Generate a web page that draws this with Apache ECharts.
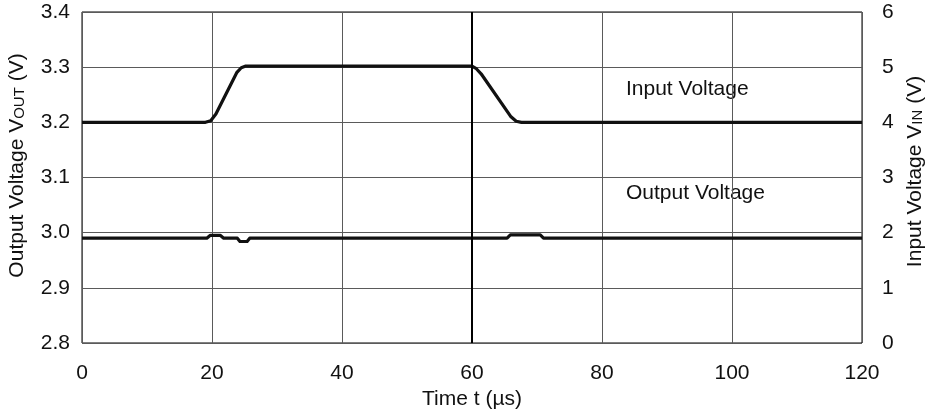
<!DOCTYPE html>
<html>
<head><meta charset="utf-8"></head>
<script type="text/javascript" src="https://cdn.jsdelivr.net/npm/echarts@6/dist/echarts.min.js"></script>
<body style="margin:0;background-color:#fff;">
    <div id="main" style="width:928px;height:416px;"></div>
</body>
<script type="text/javascript">
// time axis (us)
var xTicks = [0, 20, 40, 60, 80, 100, 120]
var voutTicks = [2.8, 2.9, 3.0, 3.1, 3.2, 3.3, 3.4]
var vinTicks = [0, 1, 2, 3, 4, 5, 6]

// input voltage step [t, V]
var vinT = [0, 19, 19.8, 20.6, 23.8, 24.5, 25.2, 60, 60.6, 61.4, 66, 66.8, 67.6, 120]
var vinV = [4, 4, 4.03, 4.15, 4.9, 4.99, 5.02, 5.02, 4.98, 4.88, 4.1, 4.02, 4, 4]

// output voltage, small blips at the edges
var voutT = [0, 19.2, 19.7, 21.3, 21.8, 23.9, 24.3, 25.4, 25.8, 65.4, 65.9, 70.5, 71, 120]
var voutV = [2.99, 2.99, 2.995, 2.995, 2.99, 2.99, 2.984, 2.984, 2.99, 2.99, 2.996, 2.996, 2.99, 2.99]

function pairs(xs, ys){
    var out = []
    for(var i=0;i<xs.length;i++){ out.push([xs[i], ys[i]]) }
    return out
}

var font = 'Liberation Sans, Arial, sans-serif'
var fs = 21
var gridColor = '#5a5a5a'

var myChart = echarts.init(document.getElementById('main'));
var option = {
    animation: false,
    grid: {left: 82, right: 66, top: 12, bottom: 73, show: true, borderColor: '#000', borderWidth: 1,
        containLabel: false, outerBoundsMode: 'none'},
    xAxis: {
        type: 'value', min: xTicks[0], max: xTicks[xTicks.length-1], interval: 20,
        name: 'Time t (\u00b5s)', nameLocation: 'middle', nameGap: 43,
        nameTextStyle: {fontFamily: font, fontSize: fs, color: '#111'},
        axisLine: {show: false}, axisTick: {show: false},
        axisLabel: {margin: 20, fontFamily: font, fontSize: fs, color: '#111'},
        splitLine: {show: true, lineStyle: {color: gridColor, width: 1}}
    },
    yAxis: [
        {
            type: 'value', min: voutTicks[0], max: voutTicks[voutTicks.length-1], interval: 0.1,
            name: '{n|Output Voltage V}{s|OUT}{n| (V)}', nameLocation: 'middle', nameGap: 54, nameRotate: 90,
            nameTextStyle: {padding: [0, 0, 0, 24], rich: {
                n: {fontFamily: font, fontSize: fs, color: '#111'},
                s: {fontFamily: font, fontSize: 15, color: '#111', padding: [4, 0, 0, 0]}
            }},
            axisLine: {show: false}, axisTick: {show: false},
            axisLabel: {margin: 12, fontFamily: font, fontSize: fs, color: '#111',
                formatter: function(v){ return v.toFixed(1) }},
            splitLine: {show: true, lineStyle: {color: gridColor, width: 1}}
        },
        {
            type: 'value', min: vinTicks[0], max: vinTicks[vinTicks.length-1], interval: 1, position: 'right',
            name: '{n|Input Voltage V}{s|IN}{n| (V)}', nameLocation: 'middle', nameGap: 43, nameRotate: 90,
            nameTextStyle: {padding: [0, 0, 0, 12], rich: {
                n: {fontFamily: font, fontSize: fs, color: '#111'},
                s: {fontFamily: font, fontSize: 15, color: '#111', padding: [4, 0, 0, 0]}
            }},
            axisLine: {show: false}, axisTick: {show: false},
            axisLabel: {margin: 20, fontFamily: font, fontSize: fs, color: '#111'},
            splitLine: {show: false}
        }
    ],
    graphic: [
        {type: 'text', left: 626, top: 79, style: {text: 'Input Voltage', fontFamily: font, fontSize: fs, fill: '#111'}},
        {type: 'text', left: 626, top: 183, style: {text: 'Output Voltage', fontFamily: font, fontSize: fs, fill: '#111'}}
    ],
    series: [
        {
            name: 'Input Voltage', type: 'line', yAxisIndex: 1, showSymbol: false,
            data: pairs(vinT, vinV),
            lineStyle: {color: '#111', width: 3.2, join: 'round'},
            markLine: {silent: true, symbol: 'none', label: {show: false},
                lineStyle: {color: '#000', width: 2, type: 'solid'}, data: [{xAxis: 60}]}
        },
        {
            name: 'Output Voltage', type: 'line', yAxisIndex: 0, showSymbol: false,
            data: pairs(voutT, voutV),
            lineStyle: {color: '#111', width: 3.2, join: 'round'}
        }
    ]
};
myChart.setOption(option);
</script>
</html>
